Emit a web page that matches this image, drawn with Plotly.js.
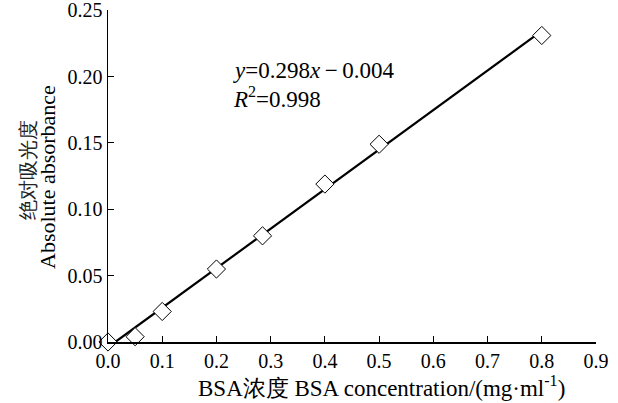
<!DOCTYPE html>
<html>
<head>
<meta charset="utf-8">
<script src="https://cdn.plot.ly/plotly-3.0.1.min.js"></script>
<style>html,body{margin:0;padding:0;background:#fff;}#chart{width:618px;height:403px;}</style>
</head>
<body>
<div id="chart"></div>
<script>
var concentration = [0, 0.05, 0.1, 0.2, 0.285, 0.4, 0.5, 0.8];
var absorbance = [0, 0.004, 0.023, 0.055, 0.080, 0.119, 0.149, 0.231];
var fitX = [0.0134, 0.8];
var fitY = [0, 0.2344];
var xTicks = [0, 0.1, 0.2, 0.3, 0.4, 0.5, 0.6, 0.7, 0.8, 0.9];
var xTickText = ['0.0','0.1','0.2','0.3','0.4','0.5','0.6','0.7','0.8','0.9'];
var yTicks = [0, 0.05, 0.10, 0.15, 0.20, 0.25];
var yTickText = ['0.00','0.05','0.10','0.15','0.20','0.25'];

var serif = 'Liberation Serif';

var traces = [
  {x: fitX, y: fitY, mode: 'lines', line: {color: '#000', width: 2.2}, hoverinfo: 'skip', cliponaxis: false},
  {x: concentration, y: absorbance, mode: 'markers', cliponaxis: false,
   marker: {symbol: 'diamond', size: 14, color: '#fff', line: {color: '#000', width: 1}}}
];

var layout = {
  width: 618, height: 403,
  margin: {l: 108, r: 22, t: 10, b: 61},
  showlegend: false,
  paper_bgcolor: '#fff', plot_bgcolor: '#fff',
  font: {family: serif, color: '#000', size: 20},
  xaxis: {
    range: [0, 0.9], tickvals: xTicks, ticktext: xTickText,
    ticks: 'inside', ticklen: 6, tickwidth: 1, tickcolor: '#000',
    showline: true, linecolor: '#000', linewidth: 1.5,
    showgrid: false, zeroline: false, ticklabeloverflow: 'allow',
    tickfont: {family: serif, size: 20, color: '#000'}
  },
  yaxis: {
    range: [0, 0.2502], tickvals: yTicks, ticktext: yTickText,
    ticks: 'inside', ticklen: 6, tickwidth: 1, tickcolor: '#000',
    showline: true, linecolor: '#000', linewidth: 1.5,
    showgrid: false, zeroline: false, ticklabeloverflow: 'allow',
    tickfont: {family: serif, size: 20, color: '#000'}
  },
  annotations: [
    {xref: 'paper', yref: 'paper', x: (381-108)/488, y: -(387-342)/332, xanchor: 'center', yanchor: 'middle',
     text: 'BSA浓度 BSA concentration/(mg·ml<sup>-1</sup>)', showarrow: false, font: {family: serif, size: 23, color: '#000'}},
    {xref: 'paper', yref: 'paper', x: -(108-28)/488, y: (342-170)/332, xanchor: 'center', yanchor: 'middle', textangle: -90,
     text: '绝对吸光度', showarrow: false, font: {family: serif, size: 20, color: '#222'}},
    {xref: 'paper', yref: 'paper', x: -(108-47)/488, y: (342-177)/332, xanchor: 'center', yanchor: 'middle', textangle: -90,
     text: 'Absolute absorbance', showarrow: false, font: {family: serif, size: 22, color: '#000'}},
    {xref: 'paper', yref: 'paper', x: (231-108)/488, y: (342-70)/332, xanchor: 'left', yanchor: 'middle',
     text: '<i>y</i>=0.298<i>x</i>\u2009\u2212\u20090.004', showarrow: false, font: {family: serif, size: 23, color: '#000'}},
    {xref: 'paper', yref: 'paper', x: (231-108)/488, y: (342-98)/332, xanchor: 'left', yanchor: 'middle',
     text: '<i>R</i><sup>2</sup>=0.998', showarrow: false, font: {family: serif, size: 23, color: '#000'}}
  ]
};

Plotly.newPlot('chart', traces, layout, {displayModeBar: false, staticPlot: true});
</script>
</body>
</html>
